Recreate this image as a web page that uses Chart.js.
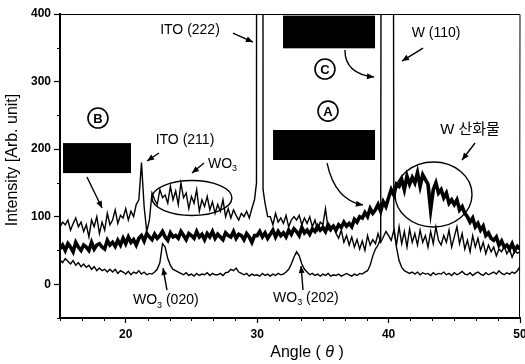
<!DOCTYPE html>
<html><head><meta charset="utf-8">
<script src="https://cdn.jsdelivr.net/npm/chart.js@4/dist/chart.umd.min.js"></script>
<style>html,body{margin:0;padding:0;overflow:hidden;background:#fff;width:525px;height:364px}</style>
</head><body>
<canvas id="c" width="540" height="364"></canvas>
<script>
// angle grid: 15.0 .. 50.0 in 0.2 degree steps
const angleStart = 15, angleStep = 0.2;

// Sample A (thick line, W oxide hump)
const sampleA = [
 52,58,50,60,55, 48,62,55,50,58, 55,50,62,52,58, 60,55,52,65,58, 62,56,65,58,68,
 60,70,62,66,58, 68,72,64,75,70, 66,74,68,72,78, 70,65,76,70,72, 68,78,72,66,75,
 72,68,78,70,74, 66,75,70,78,68, 74,70,66,76,72, 70,78,68,74,72, 66,75,70,62,72,
 72,78,70,76,68, 74,80,70,78,72, 76,70,80,74,82, 78,72,84,76,80, 74,82,78,86,80,
 84,78,88,82,86, 80,88,84,92,86, 90,85,96,92,100, 98,106,100,112,105, 110,118,108,122,115,
 128,140,132,148,145, 155,140,160,148,158, 150,165,145,162,155, 148,110,140,150,135, 140,128,135,120,125,
 118,125,110,115,105, 100,92,98,85,90, 80,86,72,76,68, 65,70,58,64,55, 58,52,60,50,56,
 52
];
// Sample B (upper thin line: ITO + WO3)
const sampleB = [
 85,92,88,95,80, 90,98,85,92,78, 88,70,95,85,100, 75,92,80,105,88, 95,110,90,102,98,
 112,95,108,100,118, 125,180,115,78,95, 135,125,118,140,128, 132,120,145,125,138, 118,150,128,135,112,
 130,120,140,108,125, 115,130,110,122,105, 118,108,125,100,112, 98,110,102,95,105, 100,108,98,112,125,
 3000,3000,3000,120,100, 100,88,105,92,98, 90,102,85,95,100, 95,102,88,98,90, 100,85,95,80,92,
 88,112,82,78,86, 75,68,80,62,72, 58,70,55,66,52, 64,50,72,58,66, 60,75,62,70,78,
 72,65,80,58,85, 60,78,55,82,62, 75,58,80,62,72, 55,78,60,85,65, 58,72,62,80,55,
 70,85,60,75,52, 65,48,72,55,68, 50,62,45,58,48, 55,42,52,48,56, 45,52,40,50,46,
 48
];
const sampleBExtra = [[29.95,150],[30.45,140]];
// Sample C (bottom thin line: WO3 + W)
const sampleC = [
 36,32,38,34,30, 35,28,32,26,30, 25,28,22,26,20, 24,20,22,18,22, 18,22,16,20,18,
 15,19,14,18,16, 20,15,18,14,16, 15,18,22,32,60, 55,38,28,22,20, 18,16,14,17,13,
 15,12,16,13,15, 14,17,13,16,14, 14,16,13,17,18, 22,20,24,18,16, 14,16,12,15,13,
 14,12,16,13,15, 12,15,13,16,14, 15,18,22,30,40, 48,42,30,22,18, 14,16,13,15,12,
 15,13,16,12,14, 13,15,12,14,16, 14,12,15,13,16, 15,18,20,28,42, 52,58,68,3000,3000,
 3000,3000,85,55,35, 25,20,18,16,18, 15,18,14,17,15, 16,13,17,14,16, 15,18,14,16,13,
 17,14,16,19,15, 14,17,13,16,18, 15,13,17,14,16, 18,15,20,16,14, 17,15,18,16,20,
 26
];
const xTicks = [20,30,40,50];
const yTicks = [0,100,200,300,400];

function toPts(vals, extra){
  const pts = vals.map((v,i)=>({x:+(angleStart+angleStep*i).toFixed(1), y:v}));
  (extra||[]).forEach(([x,y])=>pts.push({x,y}));
  return pts.sort((p,q)=>p.x-q.x);
}

const FONT = '"Liberation Sans", Arial, "Noto Sans CJK KR", sans-serif';

function arrow(ctx,x1,y1,x2,y2,cx,cy){
  ctx.beginPath(); ctx.moveTo(x1,y1);
  if(cx!==undefined) ctx.quadraticCurveTo(cx,cy,x2,y2); else ctx.lineTo(x2,y2);
  ctx.stroke();
  const dx = x2-(cx!==undefined?cx:x1), dy = y2-(cy!==undefined?cy:y1);
  const L = Math.hypot(dx,dy), ux=dx/L, uy=dy/L, hl=7, hw=3;
  ctx.beginPath(); ctx.moveTo(x2,y2);
  ctx.lineTo(x2-ux*hl-uy*hw, y2-uy*hl+ux*hw);
  ctx.lineTo(x2-ux*hl+uy*hw, y2-uy*hl-ux*hw);
  ctx.closePath(); ctx.fill();
}

const annot = {
  id:'annot',
  afterDraw(chart){
    const {ctx, chartArea:ca, scales:{x,y}} = chart;
    const px = a=>x.getPixelForValue(a), py = v=>y.getPixelForValue(v);
    ctx.save();
    ctx.strokeStyle='#000'; ctx.fillStyle='#000';
    // frame top/right
    ctx.lineWidth=1;
    ctx.beginPath(); ctx.moveTo(ca.left,ca.top+0.5); ctx.lineTo(ca.right,ca.top+0.5); ctx.lineTo(ca.right-0.5,ca.bottom); ctx.stroke();
    // minor ticks
    [-50,50,150,250,350].forEach(v=>{ctx.beginPath();ctx.moveTo(ca.left-3,Math.round(py(v))+0.5);ctx.lineTo(ca.left,Math.round(py(v))+0.5);ctx.stroke();});
    for(let k=0;k<=21;k++){const a=15+k*10/6; if(Math.abs(a-Math.round(a/10)*10)<0.01) continue; const X=Math.round(px(a))+0.5; ctx.beginPath();ctx.moveTo(X,ca.bottom);ctx.lineTo(X,ca.bottom+3);ctx.stroke();}
    // black boxes
    const box=(a0,a1,v0,v1)=>ctx.fillRect(px(a0),py(v0),px(a1)-px(a0),py(v1)-py(v0));
    box(31.97,38.97,397.6,349.2);
    box(31.21,38.97,228.3,183.9);
    box(15.23,20.40,208.9,164.5);
    // circled letters
    const circ=(a,v,t)=>{ctx.lineWidth=1.6;ctx.beginPath();ctx.arc(px(a),py(v),10,0,Math.PI*2);ctx.stroke();
      ctx.font='bold 13px '+FONT;ctx.textAlign='center';ctx.textBaseline='middle';ctx.fillText(t,px(a),py(v)+1);};
    circ(35.16,318.5,'C'); circ(35.39,256.3,'A'); circ(17.89,246.0,'B');
    // ellipses
    ctx.lineWidth=1.4;
    const ell=(a,v,ra,rv)=>{ctx.beginPath();ctx.ellipse(px(a),py(v),px(a+ra)-px(a),py(v-rv)-py(v),0,0,Math.PI*2);ctx.stroke();};
    ell(43.42,132.8,2.93,48.1);
    ell(25.04,127.6,3.04,25.9);
    // arrows
    ctx.lineWidth=1.4;
    arrow(ctx,px(28.16),py(371.8),px(29.68),py(358.5));
    arrow(ctx,px(42.62),py(349.6),px(41.02),py(330.3));
    arrow(ctx,px(36.68),py(346.6),px(38.89),py(306.7),px(36.68),py(311.1));
    arrow(ctx,px(35.32),py(179.4),px(38.05),py(117.3),px(35.92),py(124.7));
    arrow(ctx,px(46.58),py(209.0),px(45.59),py(183.9));
    arrow(ctx,px(17.05),py(158.7),px(18.20),py(112.8));
    arrow(ctx,px(22.53),py(194.2),px(21.62),py(182.4));
    arrow(ctx,px(25.96),py(179.4),px(25.04),py(164.6));
    arrow(ctx,px(23.14),py(-8.6),px(22.84),py(24.0));
    arrow(ctx,px(33.49),py(-8.6),px(33.34),py(26.9));
    // labels
    ctx.textBaseline='middle';
    ctx.font='14px '+FONT; ctx.textAlign='center';
    ctx.fillText('ITO (222)',px(24.89),py(376.1));
    ctx.fillText('W (110)',px(43.61),py(371.8));
    ctx.fillText('ITO (211)',px(24.51),py(213.4));
    ctx.font='15px '+FONT;
    ctx.fillText('W 산화물',px(46.2),py(228.2));
    const wo3=(a,v,rest)=>{ctx.textAlign='left';ctx.font='14px '+FONT;let X=px(a),Y=py(v);
      ctx.fillText('WO',X,Y);X+=ctx.measureText('WO').width;ctx.font='9px '+FONT;ctx.fillText('3',X,Y+5);X+=ctx.measureText('3').width;
      if(rest){ctx.font='14px '+FONT;ctx.fillText(rest,X,Y);}};
    wo3(26.26,178,'');
    wo3(20.55,-23.4,' (020)');
    wo3(31.21,-20.4,' (202)');
    // axis titles
    ctx.save(); ctx.translate(13,160); ctx.rotate(-Math.PI/2);
    ctx.font='16px '+FONT; ctx.textAlign='center'; ctx.fillText('Intensity [Arb. unit]',0,0); ctx.restore();
    const parts=[['Angle ( ','16px '],['θ','italic 16px '],[' )','16px ']];
    let tw=0; parts.forEach(p=>{ctx.font=p[1]+FONT;tw+=ctx.measureText(p[0]).width;});
    let X=307-tw/2; ctx.textAlign='left';
    parts.forEach(p=>{ctx.font=p[1]+FONT;ctx.fillText(p[0],X,353);X+=ctx.measureText(p[0]).width;});
    ctx.restore();
  }
};

new Chart(document.getElementById('c'),{
  type:'line',
  data:{datasets:[
    {data:toPts(sampleA),borderColor:'#000',borderWidth:3.6,pointRadius:0,tension:0},
    {data:toPts(sampleB,sampleBExtra),borderColor:'#000',borderWidth:1.4,pointRadius:0,tension:0},
    {data:toPts(sampleC),borderColor:'#000',borderWidth:1.4,pointRadius:0,tension:0}
  ]},
  options:{
    responsive:false, animation:false, devicePixelRatio:1,
    layout:{padding:{left:0,top:14,right:20,bottom:0}},
    plugins:{legend:{display:false},tooltip:{enabled:false}},
    scales:{
      x:{type:'linear',min:15,max:50,
        afterBuildTicks:s=>{s.ticks=xTicks.map(v=>({value:v}));},
        afterFit:s=>{s.height=46;},
        grid:{drawOnChartArea:false,drawTicks:true,tickLength:5,color:'#000',tickWidth:1.2},
        border:{display:true,color:'#000',width:2},
        ticks:{color:'#000',font:{family:FONT,size:12,weight:'bold'},padding:4,maxRotation:0}},
      y:{type:'linear',min:-50,max:400,
        afterBuildTicks:s=>{s.ticks=yTicks.map(v=>({value:v}));},
        afterFit:s=>{s.width=60;},
        grid:{drawOnChartArea:false,drawTicks:true,tickLength:6,color:'#000',tickWidth:1.2},
        border:{display:true,color:'#000',width:2},
        ticks:{color:'#000',font:{family:FONT,size:12,weight:'bold'},padding:3}}
    }
  },
  plugins:[annot]
});
</script>
</body></html>
